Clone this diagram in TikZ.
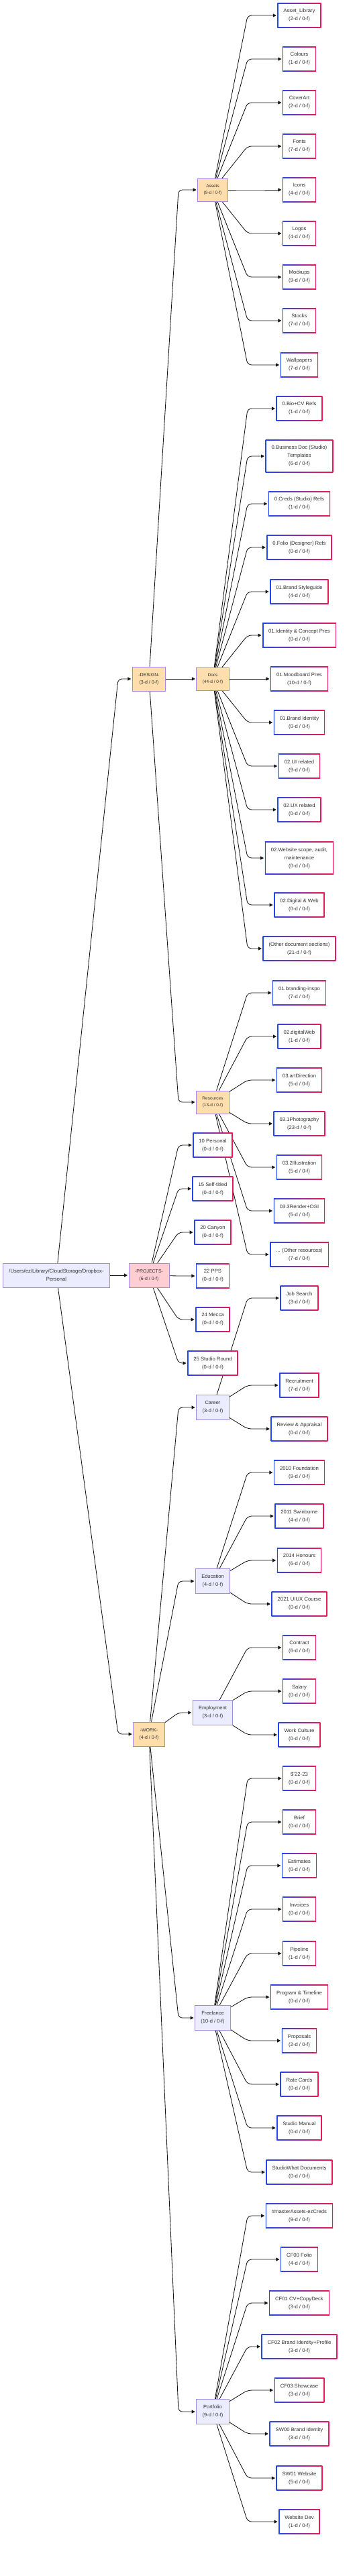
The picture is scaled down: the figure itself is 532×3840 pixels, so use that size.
\documentclass[tikz,border=0pt]{standalone}
\usepackage{fontspec}
\setmainfont{Liberation Sans}
\usetikzlibrary{arrows.meta}
\pgfdeclarelayer{bg}
\pgfsetlayers{bg,main}
\definecolor{cblue}{RGB}{37,70,235}
\definecolor{cred}{RGB}{238,24,85}
\definecolor{orgfill}{RGB}{255,222,173}
\definecolor{pinkfill}{RGB}{255,205,210}
\definecolor{lavfill}{RGB}{236,236,255}
\definecolor{lavborder}{RGB}{160,140,225}
\definecolor{txt}{RGB}{51,51,51}
\definecolor{edgec}{RGB}{20,20,20}
\tikzset{
 nbase/.style={align=center, text=txt, inner xsep=9pt, inner ysep=9pt},
 leaf/.style={nbase, font=\fontsize{7.7}{12}\selectfont, minimum height=37.5pt, fill=white,
   path picture={
     \shade[left color=cblue, right color=cred] (path picture bounding box.south west) rectangle (path picture bounding box.north east);
     \fill[white] ([xshift=1.3pt,yshift=1.3pt]path picture bounding box.south west) rectangle ([xshift=-1.3pt,yshift=-1.3pt]path picture bounding box.north east);
   }},
 orgnode/.style={nbase, fill=orgfill, draw=lavborder, line width=0.8pt, font=\fontsize{6.5}{10}\selectfont, minimum height=34pt},
 lvlone/.style={nbase, fill=orgfill, draw=lavborder, line width=0.8pt, font=\fontsize{7}{11}\selectfont, minimum height=36pt},
 lav/.style={nbase, fill=lavfill, draw=lavborder, line width=0.8pt, font=\fontsize{7.5}{12}\selectfont, minimum height=37pt},
 conn/.style={draw=edgec, line width=0.85pt, rounded corners=6pt, -{Triangle[length=5pt,width=5pt]}, shorten >=1.5pt},
}
\newcommand\leafnode[4]{\node[leaf] (#1) at (446,#2) {#3\\(#4)};}
\newcommand\conn[3]{\draw[conn] (#1) -- (#2 -| #3) -- (#2);}
\begin{document}
\begin{tikzpicture}[x=1pt,y=-1pt]
\useasboundingbox (0,0) rectangle (532,3840);
\coordinate (b1) at (176,0);
\coordinate (b2) at (266,0);
\coordinate (b3) at (369,0);
% root and level one
\node[lav, font=\fontsize{7.7}{12}\selectfont, minimum height=36pt] (root) at (84,1901) {/Users/ez/Library/CloudStorage/Dropbox-\\Personal};
\node[lvlone] (design) at (222,1012) {-DESIGN-\\(3-d / 0-f)};
\node[lvlone, fill=pinkfill] (projects) at (222,1901) {-PROJECTS-\\(6-d / 0-f)};
\node[lvlone] (work) at (222,2585) {-WORK-\\(4-d / 0-f)};
% level two
\node[orgnode] (assets) at (317,283) {Assets\\(9-d / 0-f)};
\node[orgnode] (docs) at (317,1012) {Docs\\(44-d / 0-f)};
\node[orgnode] (resources) at (317,1643) {Resources\\(13-d / 0-f)};
\node[leaf] (pj1) at (317,1707) {10 Personal\\(0-d / 0-f)};
\node[leaf] (pj2) at (317,1772) {15 Self-titled\\(0-d / 0-f)};
\node[leaf] (pj3) at (317,1837) {20 Canyon\\(0-d / 0-f)};
\node[leaf] (pj4) at (317,1902) {22 PPS\\(0-d / 0-f)};
\node[leaf] (pj5) at (317,1967) {24 Mecca\\(0-d / 0-f)};
\node[leaf] (pj6) at (317,2032) {25 Studio Round\\(0-d / 0-f)};
\node[lav] (career) at (317,2098) {Career\\(3-d / 0-f)};
\node[lav] (education) at (317,2357) {Education\\(4-d / 0-f)};
\node[lav] (employment) at (317,2553) {Employment\\(3-d / 0-f)};
\node[lav] (freelance) at (317,3008) {Freelance\\(10-d / 0-f)};
\node[lav] (portfolio) at (317,3595) {Portfolio\\(9-d / 0-f)};
% assets leaves
\leafnode{a1}{23}{Asset\_Library}{2-d / 0-f}
\leafnode{a2}{88}{Colours}{1-d / 0-f}
\leafnode{a3}{153}{CoverArt}{2-d / 0-f}
\leafnode{a4}{218}{Fonts}{7-d / 0-f}
\leafnode{a5}{283}{Icons}{4-d / 0-f}
\leafnode{a6}{348}{Logos}{4-d / 0-f}
\leafnode{a7}{413}{Mockups}{9-d / 0-f}
\leafnode{a8}{478}{Stocks}{7-d / 0-f}
\leafnode{a9}{544}{Wallpapers}{7-d / 0-f}
% docs leaves
\leafnode{d1}{609}{0.Bio+CV Refs}{1-d / 0-f}
\leafnode{d2}{680}{0.Business Doc (Studio)\\Templates}{6-d / 0-f}
\leafnode{d3}{751}{0.Creds (Studio) Refs}{1-d / 0-f}
\leafnode{d4}{816}{0.Folio (Designer) Refs}{0-d / 0-f}
\leafnode{d5}{882}{01.Brand Styleguide}{4-d / 0-f}
\leafnode{d6}{947}{01.Identity \& Concept Pres}{0-d / 0-f}
\leafnode{d7}{1012}{01.Moodboard Pres}{10-d / 0-f}
\leafnode{d8}{1077}{01.Brand Identity}{0-d / 0-f}
\leafnode{d9}{1142}{02.UI related}{9-d / 0-f}
\leafnode{d10}{1207}{02.UX related}{0-d / 0-f}
\leafnode{d11}{1279}{02.Website scope, audit,\\maintenance}{0-d / 0-f}
\leafnode{d12}{1349}{02.Digital \& Web}{0-d / 0-f}
\leafnode{d13}{1414}{(Other document sections)}{21-d / 0-f}
% resources leaves
\leafnode{r1}{1480}{01.branding-inspo}{7-d / 0-f}
\leafnode{r2}{1545}{02.digitalWeb}{1-d / 0-f}
\leafnode{r3}{1610}{03.artDirection}{5-d / 0-f}
\leafnode{r4}{1675}{03.1Photography}{23-d / 0-f}
\leafnode{r5}{1740}{03.2Illustration}{5-d / 0-f}
\leafnode{r6}{1805}{03.3Render+CGI}{5-d / 0-f}
\leafnode{r7}{1870}{... (Other resources)}{7-d / 0-f}
% career leaves
\leafnode{c1}{1935}{Job Search}{3-d / 0-f}
\leafnode{c2}{2065}{Recruitment}{7-d / 0-f}
\leafnode{c3}{2130}{Review \& Appraisal}{0-d / 0-f}
% education leaves
\leafnode{e1}{2195}{2010 Foundation}{9-d / 0-f}
\leafnode{e2}{2260}{2011 Swinburne}{4-d / 0-f}
\leafnode{e3}{2326}{2014 Honours}{6-d / 0-f}
\leafnode{e4}{2391}{2021 UIUX Course}{0-d / 0-f}
% employment leaves
\leafnode{m1}{2456}{Contract}{6-d / 0-f}
\leafnode{m2}{2521}{Salary}{0-d / 0-f}
\leafnode{m3}{2586}{Work Culture}{0-d / 0-f}
% freelance leaves
\leafnode{f1}{2651}{\$\char39 22-23}{0-d / 0-f}
\leafnode{f2}{2716}{Brief}{0-d / 0-f}
\leafnode{f3}{2781}{Estimates}{0-d / 0-f}
\leafnode{f4}{2846}{Invoices}{0-d / 0-f}
\leafnode{f5}{2912}{Pipeline}{1-d / 0-f}
\leafnode{f6}{2977}{Program \& Timeline}{0-d / 0-f}
\leafnode{f7}{3042}{Proposals}{2-d / 0-f}
\leafnode{f8}{3107}{Rate Cards}{0-d / 0-f}
\leafnode{f9}{3172}{Studio Manual}{0-d / 0-f}
\leafnode{f10}{3238}{StudioWhat Documents}{0-d / 0-f}
% portfolio leaves
\leafnode{p1}{3303}{\#masterAssets-ezCreds}{9-d / 0-f}
\leafnode{p2}{3368}{CF00 Folio}{4-d / 0-f}
\leafnode{p3}{3433}{CF01 CV+CopyDeck}{3-d / 0-f}
\leafnode{p4}{3498}{CF02 Brand Identity+Profile}{3-d / 0-f}
\leafnode{p5}{3563}{CF03 Showcase}{3-d / 0-f}
\leafnode{p6}{3628}{SW00 Brand Identity}{3-d / 0-f}
\leafnode{p7}{3694}{SW01 Website}{5-d / 0-f}
\leafnode{p8}{3759}{Website Dev}{1-d / 0-f}
\begin{pgfonlayer}{bg}
\conn{root}{design}{b1}
\conn{root}{projects}{b1}
\conn{root}{work}{b1}
\conn{design}{assets}{b2}
\conn{design}{docs}{b2}
\conn{design}{resources}{b2}
\foreach \c in {pj1,pj2,pj3,pj4,pj5,pj6} {\conn{projects}{\c}{b2}}
\foreach \c in {career,education,employment,freelance,portfolio} {\conn{work}{\c}{b2}}
\foreach \c in {a1,a2,a3,a4,a5,a6,a7,a8,a9} {\conn{assets}{\c}{b3}}
\foreach \c in {d1,d2,d3,d4,d5,d6,d7,d8,d9,d10,d11,d12,d13} {\conn{docs}{\c}{b3}}
\foreach \c in {r1,r2,r3,r4,r5,r6,r7} {\conn{resources}{\c}{b3}}
\foreach \c in {c1,c2,c3} {\conn{career}{\c}{b3}}
\foreach \c in {e1,e2,e3,e4} {\conn{education}{\c}{b3}}
\foreach \c in {m1,m2,m3} {\conn{employment}{\c}{b3}}
\foreach \c in {f1,f2,f3,f4,f5,f6,f7,f8,f9,f10} {\conn{freelance}{\c}{b3}}
\foreach \c in {p1,p2,p3,p4,p5,p6,p7,p8} {\conn{portfolio}{\c}{b3}}
\end{pgfonlayer}
\end{tikzpicture}
\end{document}
